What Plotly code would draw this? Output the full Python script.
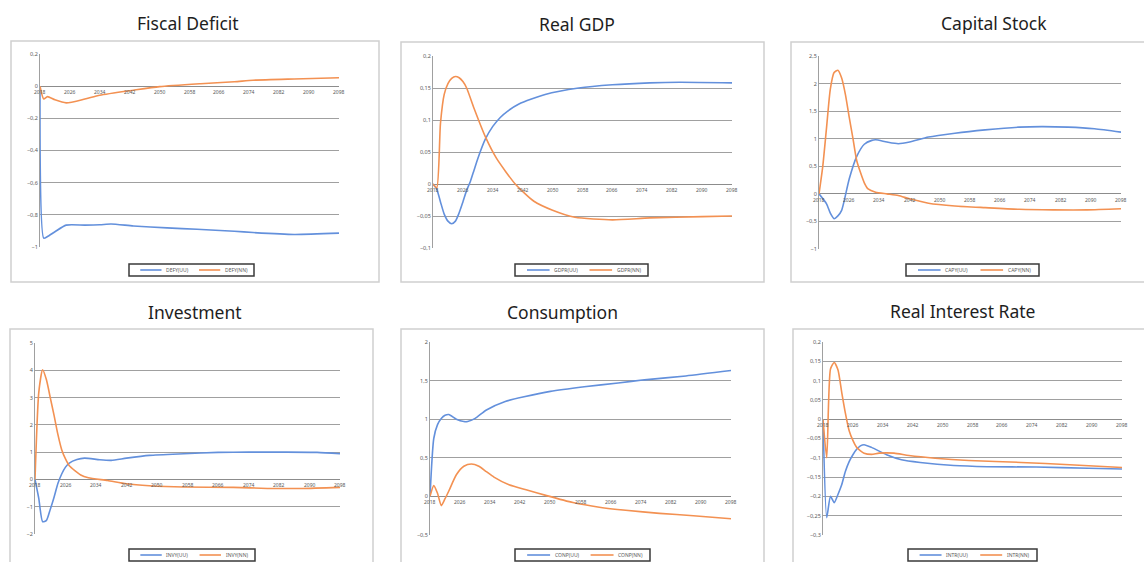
import plotly.graph_objects as go

W, H = 1144, 562

# ---------------- data ----------------
tick_years = [2018, 2026, 2034, 2042, 2050, 2058, 2066, 2074, 2082, 2090, 2098]

# Fiscal Deficit
def_uu_x = [2018, 2019, 2020, 2022, 2025, 2030, 2034, 2037, 2043, 2052, 2060, 2070, 2075, 2086, 2098]
def_uu_y = [0, -0.945, -0.935, -0.905, -0.864, -0.864, -0.862, -0.857, -0.869, -0.881, -0.89, -0.902, -0.91, -0.922, -0.914]
def_nn_x = [2018, 2019, 2020, 2022, 2025, 2030, 2034, 2043, 2050, 2061, 2070, 2075, 2086, 2098]
def_nn_y = [0, -0.08, -0.065, -0.085, -0.104, -0.08, -0.056, -0.025, -0.003, 0.015, 0.027, 0.037, 0.045, 0.052]

# Real GDP
gdp_uu_x = [2018, 2019, 2020, 2021, 2022, 2023, 2024, 2025, 2026, 2027, 2028, 2029, 2030, 2032, 2034, 2036, 2038, 2041, 2048, 2057, 2066, 2076, 2084, 2098]
gdp_uu_y = [0, -0.008, -0.028, -0.047, -0.058, -0.062, -0.058, -0.045, -0.028, -0.01, 0.004, 0.022, 0.04, 0.07, 0.09, 0.104, 0.114, 0.125, 0.14, 0.15, 0.155, 0.158, 0.159, 0.158]
gdp_nn_x = [2018, 2019, 2020, 2021, 2022, 2023, 2024, 2025, 2026, 2027, 2029, 2032, 2035, 2040, 2045, 2050, 2056, 2066, 2076, 2090, 2098]
gdp_nn_y = [0, -0.006, 0.095, 0.14, 0.157, 0.165, 0.168, 0.166, 0.16, 0.15, 0.118, 0.074, 0.04, 0.0, -0.027, -0.041, -0.052, -0.056, -0.053, -0.051, -0.05]

# Capital Stock
cap_uu_x = [2018, 2020, 2021, 2022, 2023, 2024, 2026, 2028, 2030, 2032, 2033, 2036, 2039, 2042, 2047, 2054, 2062, 2071, 2077, 2084, 2091, 2098]
cap_uu_y = [0, -0.18, -0.35, -0.45, -0.4, -0.3, 0.27, 0.68, 0.9, 0.97, 0.98, 0.94, 0.91, 0.94, 1.03, 1.1, 1.16, 1.21, 1.22, 1.21, 1.18, 1.12]
cap_nn_x = [2018, 2019, 2020, 2021, 2022, 2023, 2024, 2025, 2026, 2027, 2028, 2030, 2031, 2033, 2036, 2039, 2042, 2047, 2054, 2062, 2071, 2080, 2089, 2098]
cap_nn_y = [0, 0.5, 1.2, 1.9, 2.2, 2.24, 2.1, 1.8, 1.39, 1.0, 0.6, 0.2, 0.09, 0.03, 0.0, -0.03, -0.09, -0.17, -0.22, -0.25, -0.28, -0.29, -0.29, -0.27]

# Investment
inv_uu_x = [2018, 2019, 2020, 2021, 2022, 2023, 2024, 2025, 2026, 2027, 2029, 2031, 2035, 2038, 2042, 2048, 2057, 2066, 2074, 2083, 2092, 2098]
inv_uu_y = [0, -0.7, -1.55, -1.5, -1.1, -0.65, -0.15, 0.2, 0.45, 0.6, 0.73, 0.78, 0.72, 0.7, 0.78, 0.88, 0.94, 0.99, 1.0, 1.0, 0.99, 0.94]
inv_nn_x = [2018, 2019, 2020, 2021, 2022, 2023, 2024, 2025, 2026, 2027, 2030, 2032, 2037, 2042, 2048, 2057, 2070, 2079, 2088, 2098]
inv_nn_y = [0, 3.2, 4.02, 3.65, 3.0, 2.35, 1.65, 1.09, 0.75, 0.5, 0.16, 0.06, -0.04, -0.16, -0.23, -0.28, -0.29, -0.33, -0.33, -0.29]

# Consumption
con_uu_x = [2018, 2019, 2020, 2021, 2022, 2023, 2025, 2027, 2028, 2030, 2033, 2038, 2043, 2050, 2059, 2068, 2075, 2086, 2098]
con_uu_y = [0, 0.75, 0.93, 1.01, 1.05, 1.06, 1.0, 0.97, 0.97, 1.01, 1.12, 1.23, 1.29, 1.36, 1.42, 1.47, 1.51, 1.56, 1.63]
con_nn_x = [2018, 2019, 2020, 2021, 2022, 2023, 2025, 2027, 2029, 2031, 2033, 2035, 2039, 2044, 2049, 2056, 2063, 2070, 2079, 2088, 2098]
con_nn_y = [0, 0.14, 0.04, -0.12, -0.03, 0.07, 0.28, 0.39, 0.42, 0.39, 0.32, 0.25, 0.15, 0.08, 0.01, -0.08, -0.14, -0.18, -0.22, -0.25, -0.29]

# Real Interest Rate
int_uu_x = [2018, 2019, 2020, 2021, 2022, 2023, 2024, 2025, 2026, 2027, 2028, 2029, 2031, 2035, 2039, 2044, 2053, 2062, 2075, 2089, 2098]
int_uu_y = [0, -0.255, -0.2, -0.216, -0.195, -0.17, -0.135, -0.11, -0.092, -0.078, -0.069, -0.066, -0.073, -0.092, -0.105, -0.112, -0.12, -0.123, -0.124, -0.127, -0.129]
int_nn_x = [2018, 2019, 2020, 2021, 2022, 2023, 2024, 2025, 2026, 2027, 2029, 2031, 2033, 2037, 2041, 2048, 2057, 2071, 2084, 2098]
int_nn_y = [0, -0.1, 0.13, 0.147, 0.128, 0.07, 0.015, -0.03, -0.055, -0.073, -0.088, -0.091, -0.088, -0.088, -0.094, -0.101, -0.107, -0.112, -0.118, -0.125]

titles = ["Fiscal Deficit", "Real GDP", "Capital Stock", "Investment", "Consumption", "Real Interest Rate"]
names_uu = ["DEFY(UU)", "GDPR(UU)", "CAPY(UU)", "INVY(UU)", "CONP(UU)", "INTR(UU)"]
names_nn = ["DEFY(NN)", "GDPR(NN)", "CAPY(NN)", "INVY(NN)", "CONP(NN)", "INTR(NN)"]
y_ranges = [(-1, 0.2), (-0.1, 0.2), (-1, 2.5), (-2, 5), (-0.5, 2), (-0.3, 0.2)]
y_dticks = [0.2, 0.05, 0.5, 1, 0.5, 0.05]

series = [
    (def_uu_x, def_uu_y, def_nn_x, def_nn_y),
    (gdp_uu_x, gdp_uu_y, gdp_nn_x, gdp_nn_y),
    (cap_uu_x, cap_uu_y, cap_nn_x, cap_nn_y),
    (inv_uu_x, inv_uu_y, inv_nn_x, inv_nn_y),
    (con_uu_x, con_uu_y, con_nn_x, con_nn_y),
    (int_uu_x, int_uu_y, int_nn_x, int_nn_y),
]

# ---------------- layout (pixels) ----------------
boxes = [(11, 41, 379, 282), (401, 42, 764, 282), (791, 42, 1160, 282),
         (10, 329, 373, 575), (401, 329, 764, 575), (793, 329, 1160, 575)]
plots = [(40, 54, 339, 247), (433, 56, 732, 248), (819, 56, 1121, 249),
         (35, 343, 340, 534), (430, 342, 731, 535), (823, 342, 1122, 535)]
title_pos = [(188, 23), (577, 24), (994, 23), (195, 312), (562, 312), (962, 311)]
# legend boxes: left, top, width, height
legend_box = [(129, 264, 125, 12), (515, 264, 133, 12), (906, 264, 133, 12),
              (129, 549, 126, 12), (515, 549, 135, 12), (908, 549, 129, 12)]

BLUE = "#6390dc"
ORANGE = "#f39152"
GRID = "#a0a0a0"

fig = go.Figure()
layout = dict(width=W, height=H, margin=dict(l=0, r=0, t=0, b=0, autoexpand=False),
              paper_bgcolor="white", plot_bgcolor="white",
              separators=", ", showlegend=False,
              font=dict(family="Noto Sans", color="#404040"))
shapes = []
annotations = []

def px(x):
    return x / W

def py(y):
    return 1 - y / H

for i in range(6):
    k = "" if i == 0 else str(i + 1)
    ux, uy, nx, ny = series[i]
    fig.add_trace(go.Scatter(x=ux, y=uy, mode="lines", name=names_uu[i],
                             line=dict(color=BLUE, width=1.6, shape="spline", smoothing=0.6),
                             xaxis="x" + k, yaxis="y" + k))
    fig.add_trace(go.Scatter(x=nx, y=ny, mode="lines", name=names_nn[i],
                             line=dict(color=ORANGE, width=1.6, shape="spline", smoothing=0.6),
                             xaxis="x" + k, yaxis="y" + k))
    x0, y0, x1, y1 = plots[i]
    layout["xaxis" + k] = dict(domain=[px(x0), px(x1)], range=[2018, 2098],
                               anchor="y" + k, showgrid=False, showticklabels=False,
                               zeroline=False, showline=False, ticks="")
    layout["yaxis" + k] = dict(domain=[py(y1), py(y0)], range=list(y_ranges[i]),
                               anchor="x" + k, dtick=y_dticks[i], tick0=0,
                               showgrid=True, gridcolor=GRID, gridwidth=1,
                               zeroline=True, zerolinecolor="#8c8c8c", zerolinewidth=1,
                               showline=True, linecolor=GRID, linewidth=1,
                               ticks="", ticklen=0,
                               tickfont=dict(size=5.5, color="#595959"))
    bx0, by0, bx1, by1 = boxes[i]
    shapes.append(dict(type="rect", xref="paper", yref="paper",
                       x0=px(bx0), x1=px(bx1), y0=py(by1), y1=py(by0),
                       line=dict(color="#d0d0d0", width=1.5), fillcolor="rgba(0,0,0,0)",
                       layer="below"))
    tx, ty = title_pos[i]
    annotations.append(dict(text=titles[i], xref="paper", yref="paper",
                            x=px(tx), y=py(ty), xanchor="center", yanchor="middle",
                            showarrow=False,
                            font=dict(size=17.5, color="#1e1e1e", family="Noto Sans")))
    for yr in tick_years:
        annotations.append(dict(text=str(yr), xref="x" + k, yref="y" + k,
                                x=yr, y=0, xanchor="center", yanchor="top", yshift=-1,
                                showarrow=False,
                                font=dict(size=5, color="#595959")))
    # manual legend
    lx, ly, lw, lh = legend_box[i]
    shapes.append(dict(type="rect", xref="paper", yref="paper",
                       x0=px(lx), x1=px(lx + lw), y0=py(ly + lh), y1=py(ly),
                       line=dict(color="#3a3a3a", width=1.5), fillcolor="white"))
    ym = ly + lh / 2
    for j, (col, nm) in enumerate([(BLUE, names_uu[i]), (ORANGE, names_nn[i])]):
        sx = lx + lw * (0.09 + 0.47 * j)
        shapes.append(dict(type="line", xref="paper", yref="paper",
                           x0=px(sx), x1=px(sx + lw * 0.17), y0=py(ym), y1=py(ym),
                           line=dict(color=col, width=1.6)))
        annotations.append(dict(text=nm, xref="paper", yref="paper",
                                x=px(sx + lw * 0.19), y=py(ym), xanchor="left",
                                yanchor="middle", showarrow=False,
                                font=dict(size=5, color="#595959")))

layout["shapes"] = shapes
layout["annotations"] = annotations
fig.update_layout(**layout)
fig.write_html("out.html", config={"displayModeBar": False},
               post_script="document.body.style.margin='0px';")
